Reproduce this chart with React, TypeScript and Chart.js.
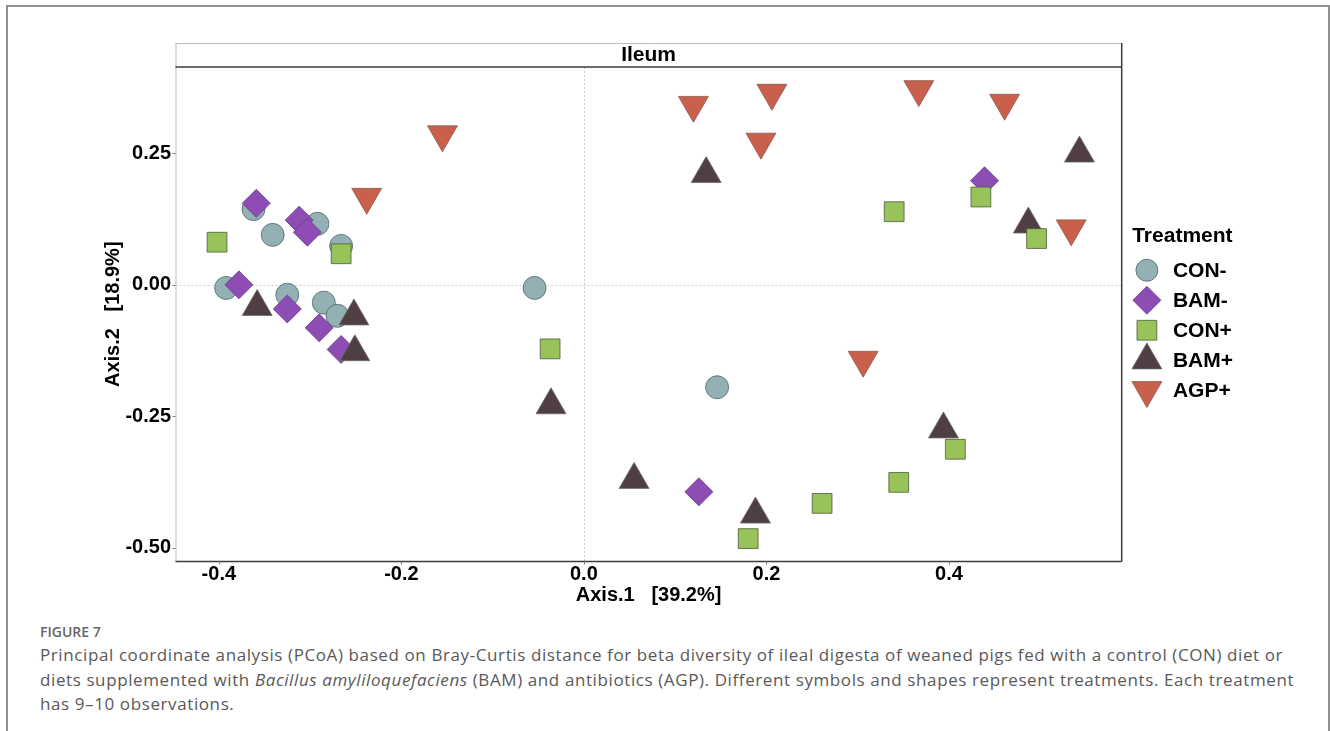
import React, { useEffect, useRef } from 'react';
import { Chart, registerables } from 'chart.js';
import { drawPoint } from 'chart.js/helpers';

Chart.register(...registerables);

// ---------- data ----------
const treatments = ['CON-', 'BAM-', 'CON+', 'BAM+', 'AGP+'];

const conMinusX = [-0.362, -0.341, -0.292, -0.266, -0.392, -0.325, -0.285, -0.270, -0.054, 0.146];
const conMinusY = [0.144, 0.095, 0.116, 0.074, -0.006, -0.019, -0.034, -0.059, -0.006, -0.195];

const bamMinusX = [-0.359, -0.312, -0.303, -0.378, -0.325, -0.290, -0.266, 0.126, 0.439];
const bamMinusY = [0.155, 0.123, 0.100, 0.000, -0.046, -0.082, -0.123, -0.394, 0.198];

const conPlusX = [-0.402, -0.266, -0.037, 0.180, 0.261, 0.345, 0.407, 0.340, 0.435, 0.496];
const conPlusY = [0.081, 0.059, -0.122, -0.483, -0.416, -0.376, -0.313, 0.139, 0.167, 0.088];

const bamPlusX = [-0.358, -0.252, -0.251, -0.036, 0.055, 0.188, 0.394, 0.134, 0.543, 0.487];
const bamPlusY = [-0.042, -0.060, -0.128, -0.229, -0.371, -0.437, -0.275, 0.211, 0.250, 0.115];

const agpPlusX = [-0.155, -0.238, 0.120, 0.206, 0.194, 0.367, 0.461, 0.534, 0.306];
const agpPlusY = [0.286, 0.167, 0.342, 0.365, 0.272, 0.372, 0.346, 0.107, -0.143];

const xTicks = [-0.4, -0.2, 0.0, 0.2, 0.4];
const yTicks = [0.25, 0.0, -0.25, -0.5];

const xTitle = 'Axis.1   [39.2%]';
const yTitle = 'Axis.2   [18.9%]';
const panelTitle = 'Ileum';
const legendTitle = 'Treatment';

// ---------- styles ----------
const FONT = "'Liberation Sans', Arial, Helvetica, sans-serif";

const toPoints = (xs: number[], ys: number[]) => xs.map((x, i) => ({ x, y: ys[i] }));

const panelPlugin = {
  id: 'panelDecor',
  beforeDatasetsDraw(chart: any) {
    const { ctx, chartArea: a, scales } = chart;
    const x0 = Math.round(scales.x.getPixelForValue(0)) + 0.5;
    const y0 = Math.round(scales.y.getPixelForValue(0)) + 0.5;
    ctx.save();
    ctx.strokeStyle = '#cdcdcd';
    ctx.lineWidth = 1;
    ctx.setLineDash([2, 2]);
    ctx.beginPath();
    ctx.moveTo(x0, a.top);
    ctx.lineTo(x0, a.bottom);
    ctx.moveTo(a.left, y0);
    ctx.lineTo(a.right, y0);
    ctx.stroke();
    ctx.restore();
  },
  afterDatasetsDraw(chart: any) {
    const { ctx, chartArea: a, scales } = chart;
    ctx.save();
    const stripTop = a.top - 24;
    // strip
    ctx.fillStyle = '#ffffff';
    ctx.fillRect(a.left, stripTop, a.right - a.left, 24);
    ctx.lineWidth = 1;
    ctx.strokeStyle = '#bdbdbd';
    ctx.beginPath();
    ctx.moveTo(a.left, stripTop + 0.5);
    ctx.lineTo(a.right, stripTop + 0.5);
    ctx.moveTo(a.left + 0.5, stripTop);
    ctx.lineTo(a.left + 0.5, a.bottom);
    ctx.stroke();
    ctx.strokeStyle = '#3c3c3c';
    ctx.lineWidth = 1.5;
    ctx.beginPath();
    ctx.moveTo(a.left, a.top);
    ctx.lineTo(a.right, a.top);
    ctx.moveTo(a.left, a.bottom);
    ctx.lineTo(a.right, a.bottom);
    ctx.moveTo(a.right, stripTop);
    ctx.lineTo(a.right, a.bottom);
    ctx.stroke();
    ctx.fillStyle = '#000';
    ctx.font = `bold 21px ${FONT}`;
    ctx.textAlign = 'center';
    ctx.textBaseline = 'middle';
    ctx.fillText(panelTitle, (a.left + a.right) / 2, stripTop + 12.5);

    // tick marks
    ctx.strokeStyle = '#777';
    ctx.lineWidth = 1;
    ctx.beginPath();
    xTicks.forEach((v) => {
      const px = Math.round(scales.x.getPixelForValue(v)) + 0.5;
      ctx.moveTo(px, a.bottom);
      ctx.lineTo(px, a.bottom + 3);
    });
    yTicks.forEach((v) => {
      const py = Math.round(scales.y.getPixelForValue(v)) + 0.5;
      ctx.moveTo(a.left - 3, py);
      ctx.lineTo(a.left, py);
    });
    ctx.stroke();

    // legend
    const cy = (a.top + a.bottom) / 2;
    const lx = a.right + 10.5;
    ctx.fillStyle = '#000';
    ctx.textAlign = 'left';
    ctx.textBaseline = 'middle';
    ctx.font = `bold 21px ${FONT}`;
    ctx.fillText(legendTitle, lx, cy - 78);
    chart.data.datasets.forEach((ds: any, i: number) => {
      const rowY = cy - 44 + i * 30;
      ctx.fillStyle = ds.backgroundColor;
      ctx.strokeStyle = ds.borderColor;
      ctx.lineWidth = ds.borderWidth;
      drawPoint(
        ctx,
        {
          pointStyle: ds.pointStyle,
          rotation: ds.pointRotation || 0,
          radius: ds.legendRadius,
          borderWidth: ds.borderWidth,
        } as any,
        lx + 14.7,
        rowY
      );
      ctx.fillStyle = '#000';
      ctx.font = `bold 21px ${FONT}`;
      ctx.fillText(ds.label, lx + 40.7, rowY + 1);
    });
    ctx.restore();
  },
};

const App = () => {
  const ref = useRef<HTMLCanvasElement | null>(null);

  useEffect(() => {
    if (!ref.current) return;
    const mk = (
      label: string,
      xs: number[],
      ys: number[],
      fill: string,
      stroke: string,
      style: string,
      radius: number,
      order: number,
      rotation = 0,
      legendRadius = radius
    ) => ({
      label,
      data: toPoints(xs, ys),
      backgroundColor: fill,
      borderColor: stroke,
      borderWidth: 0.8,
      pointStyle: style,
      pointRadius: radius,
      pointHoverRadius: radius,
      pointRotation: rotation,
      legendRadius,
      order,
    });

    const chart = new Chart(ref.current, {
      type: 'scatter',
      data: {
        datasets: [
          mk(treatments[0], conMinusX, conMinusY, '#93B0B4', '#4f6669', 'circle', 11.5, 5, 0, 11),
          mk(treatments[1], bamMinusX, bamMinusY, '#8E4DB5', '#6a3a88', 'rectRot', 14, 4),
          mk(treatments[2], conPlusX, conPlusY, '#98C25A', '#4d5d38', 'rect', 14, 2),
          mk(treatments[3], bamPlusX, bamPlusY, '#4F3F43', '#6b6b6b', 'triangle', 17.3, 3),
          mk(treatments[4], agpPlusX, agpPlusY, '#C9604B', '#8a5a50', 'triangle', 17.3, 1, 180),
        ] as any,
      },
      options: {
        animation: false,
        responsive: false,
        events: [],
        layout: { padding: { left: 101.5, right: 208.3, top: 67, bottom: 5 } },
        plugins: {
          legend: { display: false },
          tooltip: { enabled: false },
        },
        scales: {
          x: {
            type: 'linear',
            min: -0.4475,
            max: 0.5893,
            afterBuildTicks: (s: any) => {
              s.ticks = xTicks.map((v) => ({ value: v }));
            },
            afterFit: (s: any) => {
              s.height = 45.5;
            },
            grid: { display: false, drawTicks: false },
            border: { display: false },
            ticks: {
              padding: 1,
              color: '#000',
              autoSkip: false,
              maxRotation: 0,
              font: { family: FONT, size: 20, weight: 'bold' },
              callback: (v: any) => Number(v).toFixed(1),
            },
            title: {
              display: true,
              text: xTitle,
              color: '#000',
              padding: 0,
              font: { family: FONT, size: 20, weight: 'bold' },
            },
          },
          y: {
            type: 'linear',
            min: -0.5266,
            max: 0.4144,
            afterBuildTicks: (s: any) => {
              s.ticks = yTicks.map((v) => ({ value: v }));
            },
            afterFit: (s: any) => {
              s.width = 74;
            },
            grid: { display: false, drawTicks: false },
            border: { display: false },
            ticks: {
              padding: 4.5,
              color: '#000',
              autoSkip: false,
              font: { family: FONT, size: 20, weight: 'bold' },
              callback: (v: any) => Number(v).toFixed(2),
            },
            title: {
              display: true,
              text: yTitle,
              color: '#000',
              padding: 0,
              font: { family: FONT, size: 20, weight: 'bold' },
            },
          },
        },
      } as any,
      plugins: [panelPlugin],
    });
    return () => chart.destroy();
  }, []);

  return (
    <div>
      <div
        style={{
          position: 'absolute',
          left: 6,
          top: 5,
          width: 1324,
          height: 726,
          boxSizing: 'border-box',
          borderTop: '2px solid #8f8f8f',
          borderLeft: '2px solid #8f8f8f',
          borderRight: '2px solid #8f8f8f',
        }}
      />
      <canvas
        ref={ref}
        width={1330}
        height={612}
        style={{ position: 'absolute', left: 0, top: 0, width: 1330, height: 612 }}
      />
      <div
        style={{
          position: 'absolute',
          left: 40,
          top: 622.6,
          fontFamily: "'Open Sans', 'Noto Sans', sans-serif",
          fontSize: 14,
          fontWeight: 600,
          lineHeight: '18px',
          color: '#666',
          whiteSpace: 'nowrap',
        }}
      >
        FIGURE 7
      </div>
      <div
        style={{
          position: 'absolute',
          left: 40,
          top: 643,
          fontFamily: "'Open Sans', 'Noto Sans', sans-serif",
          fontSize: 17,
          letterSpacing: '0.6px',
          lineHeight: '24.5px',
          color: '#595959',
          whiteSpace: 'nowrap',
        }}
      >
        Principal coordinate analysis (PCoA) based on Bray-Curtis distance for beta diversity of ileal digesta of weaned pigs fed with a control (CON) diet or
        <br />
        diets supplemented with <i>Bacillus amyliloquefaciens</i> (BAM) and antibiotics (AGP). Different symbols and shapes represent treatments. Each treatment
        <br />
        has 9–10 observations.
      </div>
    </div>
  );
};

export default App;
